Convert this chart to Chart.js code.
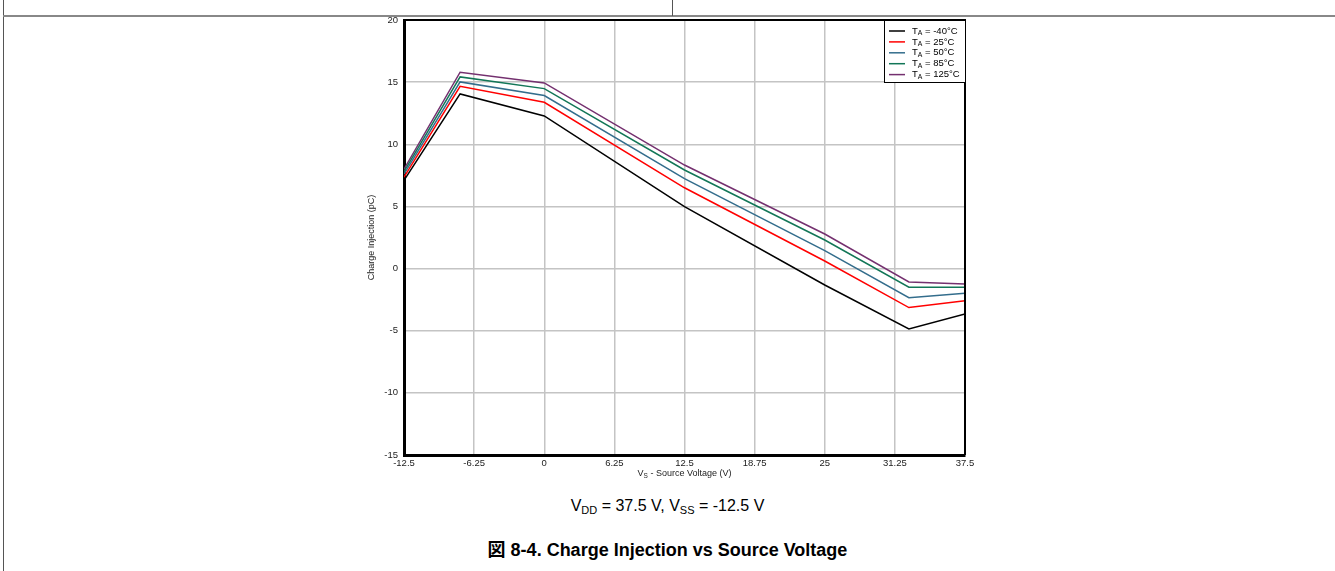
<!DOCTYPE html>
<html>
<head>
<meta charset="utf-8">
<script src="https://cdn.jsdelivr.net/npm/chart.js@4.4.1/dist/chart.umd.min.js"></script>
<style>
  body { margin: 0; background: #fff; font-family: Arial, "Liberation Sans", "Noto Sans CJK JP", sans-serif; }
  .page { position: relative; width: 1335px; height: 571px; overflow: hidden; }
  .vline { position: absolute; left: 3px; top: 0; width: 1px; height: 571px; background: #555; }
  .hline { position: absolute; left: 3px; top: 15px; width: 1332px; height: 2px; background: #888; }
  .tick { position: absolute; left: 672px; top: 0; width: 1px; height: 16px; background: #555; }
  .chartBox { position: absolute; left: 340px; top: 0; width: 640px; height: 490px; }
  .cond { position: absolute; left: 0; width: 1335px; top: 497px; text-align: center; font-size: 16px; color: #000; }
  .cond sub { font-size: 11px; vertical-align: -3px; }
  .caption { position: absolute; left: 0; width: 1335px; top: 535px; text-align: center; font-size: 18px; font-weight: bold; color: #000; }
</style>
</head>
<body>
<div class="page">
  <div class="vline"></div>
  <div class="hline"></div>
  <div class="tick"></div>
  <div class="chartBox"><canvas id="chargeChart"></canvas></div>
  <div class="cond">V<sub>DD</sub> = 37.5 V, V<sub>SS</sub> = -12.5 V</div>
  <div class="caption">図 8-4. Charge Injection vs Source Voltage</div>
</div>
<script>
const sourceVoltage = [-12.5, -7.5, 0, 12.5, 25, 32.5, 37.5];
const tempLabels = ['-40°C', '25°C', '50°C', '85°C', '125°C'];
const qM40 = [7.1, 14.05, 12.28, 4.98, -1.32, -4.86, -3.65];
const q25 = [7.35, 14.67, 13.38, 6.5, 0.61, -3.14, -2.58];
const q50 = [7.6, 15.02, 13.92, 7.23, 1.44, -2.34, -1.99];
const q85 = [7.8, 15.42, 14.48, 7.93, 2.3, -1.5, -1.5];
const q125 = [8.0, 15.8, 14.94, 8.33, 2.78, -1.08, -1.24];
const xTicks = [-12.5, -6.25, 0, 6.25, 12.5, 18.75, 25, 31.25, 37.5];
const yTicks = [-15, -10, -5, 0, 5, 10, 15, 20];

const colors = ['#000000', '#ff0000', '#336d8c', '#127657', '#74306f'];
const seriesList = [qM40, q25, q50, q85, q125];

const FONT = 'Arial, "Liberation Sans", sans-serif';

// draw text where some parts are subscripts
function drawSubText(ctx, x, y, parts, size) {
    ctx.textBaseline = 'middle';
    ctx.textAlign = 'left';
    parts.forEach(p => {
        const s = p.sub ? size * 0.72 : size;
        ctx.font = s + 'px ' + FONT;
        ctx.fillText(p.t, x, p.sub ? y + size * 0.25 : y);
        x += ctx.measureText(p.t).width;
    });
    return x;
}
function measureSubText(ctx, parts, size) {
    let w = 0;
    parts.forEach(p => {
        ctx.font = (p.sub ? size * 0.72 : size) + 'px ' + FONT;
        w += ctx.measureText(p.t).width;
    });
    return w;
}

const extras = {
    id: 'extras',
    afterDraw(chart) {
        const ctx = chart.ctx;
        const a = chart.chartArea;
        ctx.save();
        // frame top/right
        ctx.strokeStyle = '#000';
        ctx.lineWidth = 2;
        ctx.beginPath();
        ctx.moveTo(a.left, a.top);
        ctx.lineTo(a.right, a.top);
        ctx.lineTo(a.right, a.bottom);
        ctx.stroke();

        // legend box
        const lw = 81, lh = 62;
        const lx = a.right - lw, ly = a.top;
        ctx.fillStyle = '#fff';
        ctx.fillRect(lx, ly, lw, lh);
        ctx.lineWidth = 1;
        ctx.strokeStyle = '#000';
        ctx.strokeRect(lx + 0.5, ly + 0.5, lw, lh);
        tempLabels.forEach((lab, i) => {
            const yy = ly + 11 + i * 10.9;
            ctx.strokeStyle = colors[i];
            ctx.lineWidth = 1.5;
            ctx.beginPath();
            ctx.moveTo(lx + 5, yy);
            ctx.lineTo(lx + 21, yy);
            ctx.stroke();
            ctx.fillStyle = '#000';
            drawSubText(ctx, lx + 28, yy, [{t: 'T'}, {t: 'A', sub: true}, {t: ' = ' + lab}], 9.5);
        });

        // axis titles
        ctx.fillStyle = '#222';
        const xParts = [{t: 'V'}, {t: 'S', sub: true}, {t: ' - Source Voltage (V)'}];
        const xw = measureSubText(ctx, xParts, 9);
        drawSubText(ctx, (a.left + a.right) / 2 - xw / 2, a.bottom + 19, xParts, 9);

        ctx.translate(32, (a.top + a.bottom) / 2);
        ctx.rotate(-Math.PI / 2);
        ctx.font = '9px ' + FONT;
        ctx.textAlign = 'center';
        ctx.textBaseline = 'middle';
        ctx.fillText('Charge Injection (pC)', 0, 0);
        ctx.restore();
    }
};

new Chart(document.getElementById('chargeChart'), {
    type: 'line',
    data: {
        datasets: seriesList.map((vals, i) => ({
            label: 'TA = ' + tempLabels[i],
            data: sourceVoltage.map((x, j) => ({x: x, y: vals[j]})),
            borderColor: colors[i],
            borderWidth: 1.5,
            pointRadius: 0,
            tension: 0,
            fill: false,
        })),
    },
    options: {
        responsive: true,
        maintainAspectRatio: false,
        animation: false,
        layout: { padding: { top: 20, right: 15, bottom: 0, left: 0 } },
        plugins: {
            legend: { display: false },
            tooltip: { enabled: false },
        },
        scales: {
            x: {
                type: 'linear',
                min: -12.5,
                max: 37.5,
                afterBuildTicks: scale => { scale.ticks = xTicks.map(v => ({value: v})); },
                afterFit: scale => { scale.height = 35; },
                grid: { color: '#c4c4c4', lineWidth: 1.5, drawTicks: false },
                border: { color: '#000', width: 3 },
                ticks: {
                    padding: 3,
                    color: '#222',
                    font: { size: 9.5, family: FONT },
                    maxRotation: 0,
                    autoSkip: false,
                    callback: v => String(v),
                },
            },
            y: {
                min: -15,
                max: 20,
                afterBuildTicks: scale => { scale.ticks = yTicks.map(v => ({value: v})); },
                afterFit: scale => { scale.width = 64; },
                grid: { color: '#c4c4c4', lineWidth: 1.5, drawTicks: false },
                border: { color: '#000', width: 3 },
                ticks: {
                    padding: 6,
                    color: '#222',
                    font: { size: 9.5, family: FONT },
                    callback: v => String(v),
                },
            },
        },
    },
    plugins: [extras],
});
</script>
</body>
</html>
